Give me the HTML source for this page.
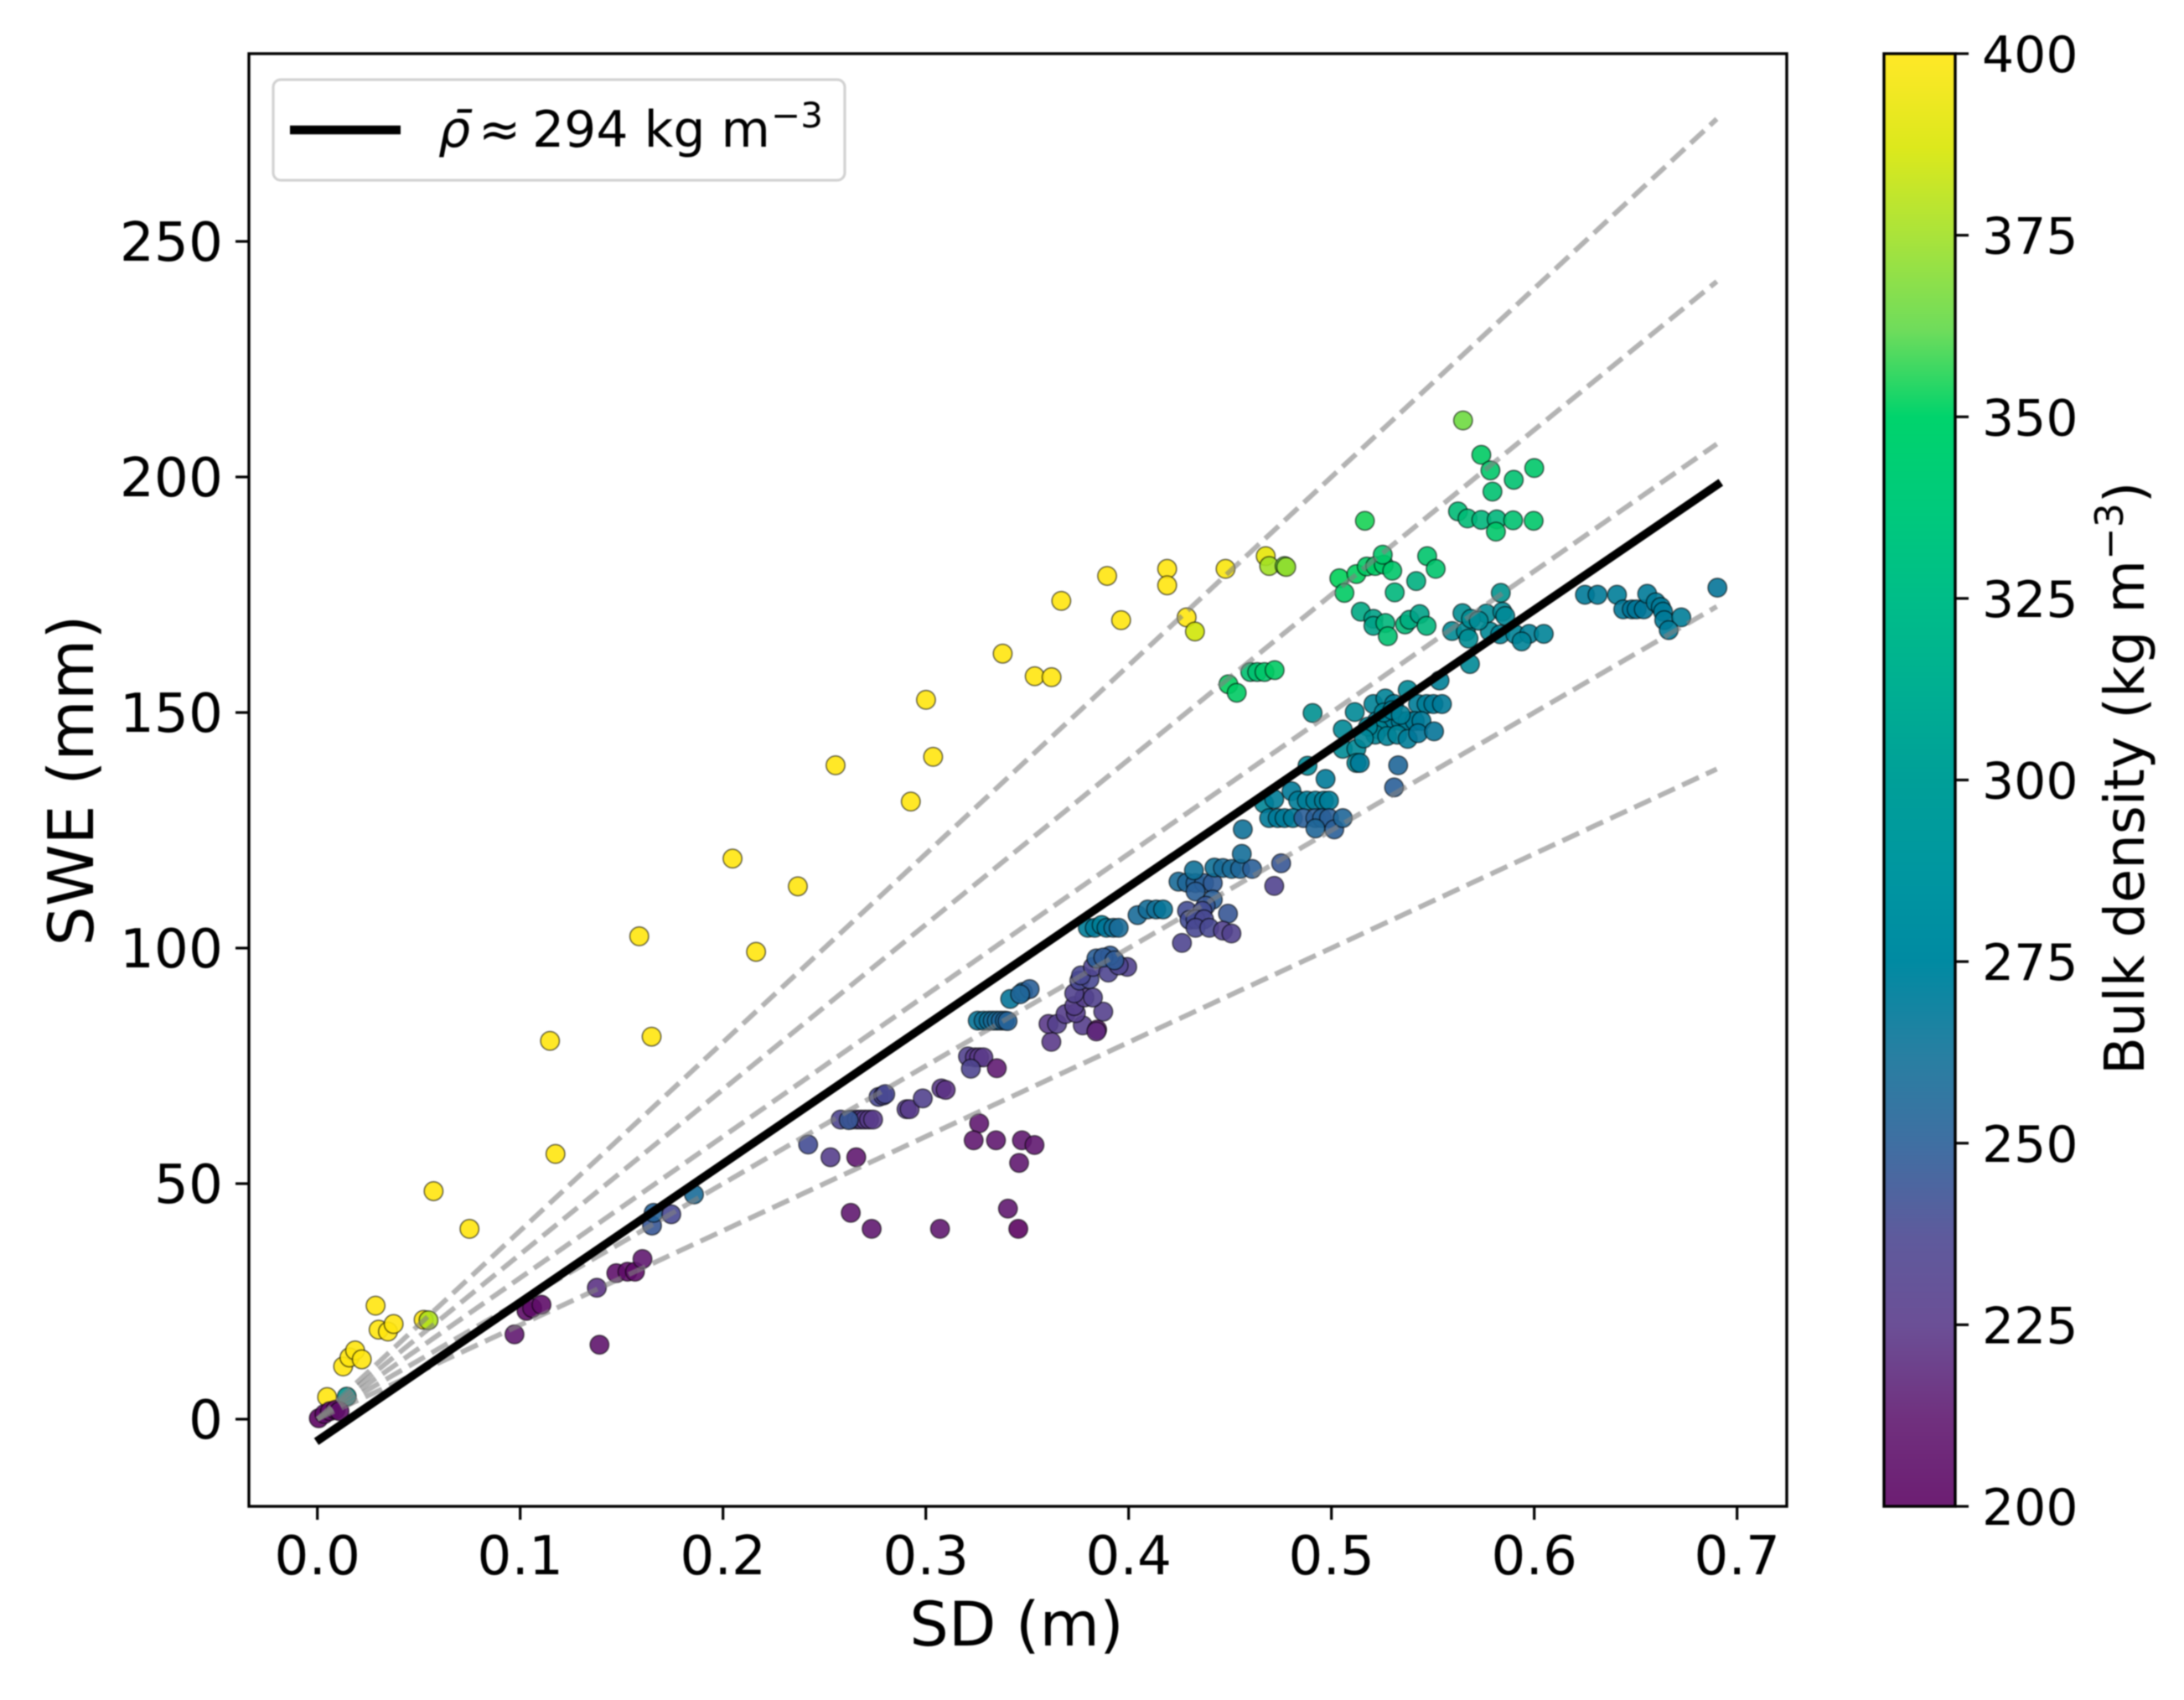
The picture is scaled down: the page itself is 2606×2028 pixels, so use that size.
<!DOCTYPE html>
<html lang="en">
<head>
<meta charset="utf-8">
<title>SWE vs SD scatter</title>
<style>
html,body{margin:0;padding:0;background:#fff;}
svg{display:block;filter:blur(0.9px);}
text{font-family:"DejaVu Sans","Liberation Sans",sans-serif;fill:#000;}
</style>
</head>
<body>
<svg id="chart" width="2606" height="2028" viewBox="0 0 2606 2028" xmlns="http://www.w3.org/2000/svg">
  <defs>
    <linearGradient id="cbar-gradient" x1="0" y1="1" x2="0" y2="0"></linearGradient>
  </defs>
  <rect x="0" y="0" width="2606" height="2028" fill="#fff"/>
  <g id="points"></g>
  <g id="guides"></g>
  <g id="fit"></g>
  <rect x="297" y="64" width="1835" height="1733" fill="none" stroke="#000" stroke-width="3.4"/>
  <g id="x-axis"></g>
  <g id="y-axis"></g>
  <text x="1213" y="1963" font-size="73.5" text-anchor="middle">SD (m)</text>
  <text transform="translate(111,931) rotate(-90)" font-size="74.5" text-anchor="middle">SWE (mm)</text>

  <g>
    <rect x="326" y="95" width="682" height="120" rx="9" ry="9" fill="#fff" fill-opacity="0.85" stroke="#d2d2d2" stroke-width="3.2"/>
    <line x1="346" y1="155" x2="478" y2="155" stroke="#000" stroke-width="10.5"/>
    <text x="523" y="175" font-size="60" font-style="italic">ρ̄</text>
    <text x="571" y="175" font-size="60">≈</text>
    <text x="635" y="175" font-size="60">294 kg m</text>
    <text x="920" y="152" font-size="42">−3</text>
  </g>

  <rect x="2248" y="64" width="85" height="1733" fill="url(#cbar-gradient)"/>
  <rect x="2248" y="64" width="85" height="1733" fill="none" stroke="#000" stroke-width="3.4"/>
  <g id="cbar-axis"></g>
  <text transform="translate(2558,1282) rotate(-90)" font-size="65.5">Bulk density (kg m<tspan dy="-25" font-size="46">−3</tspan><tspan dy="25">)</tspan></text>
</svg>

<script>
const sdValues = [
  .0573,.075,.1147,.1174,.1587,.1648,.2047,.2163,.2369,.2555,.2926,.3001,.3036,.3379,.3537,.362,.3668,.3894,.3963,.419,.419,.4286,.4327,.4478,.4676,
  .0127,.0158,.0186,.0219,.0287,.0302,.0348,.0376,.0524,.0548,.0048,.0145,.0007,.0035,.0062,.009,.0109,
  .0972,.1391,.1378,.1031,.1059,.1105,.1474,.1529,.1566,.1603,.165,.1658,.1745,.1857,
  .242,.253,.2657,.258,.2635,.266,.268,.27,.272,.274,.262,.2767,.279,.28,.2905,.292,.2985,.3077,.3098,
  .3208,.3242,.3263,.3284,.3222,.335,.3263,.3236,.3346,.3474,.3536,.346,.263,.2733,.307,.3405,.3456,
  .3256,.3285,.331,.333,.335,.337,.339,.3403,.3416,.3479,.3512,.3465,
  .3619,.3605,.3647,.3689,.3774,.3845,.3841,.3875,.374,.3732,.3782,.3732,.3824,.3757,.3807,.3765,.3824,.39,.3993,.3951,.3841,.3909,.3875,.393,
  .3799,.3833,.3867,.3891,.3925,.3951,.4044,.4094,.4136,.417,.4246,.4288,.433,.4372,.4415,.4322,.4423,.4465,.4508,.455,.4609,.4558,.433,.4415,.438,
  .4288,.43,.4364,.433,.4372,.449,.433,.4398,.4465,.4507,.4263,.4718,.4752,.4563,.5309,.5329,
  .4668,.4718,.4803,.4836,.4879,.4921,.4963,.4988,.4693,.4735,.4769,.481,.4862,.4921,.4954,.4988,.4921,.5014,.5056,.4971,
  .4882,.4907,.5056,.5056,.5123,.5123,.514,.5115,.5207,.5266,.5376,.5309,.5427,.5469,.5503,.5545,.5224,.5266,.53,.5342,.5376,.5411,.5444,.5233,.5216,.5275,.5325,.5376,.5427,.5506,.5533,.5258,.53,.5342,.518,.516,
  .5595,.5663,.5676,.5781,.5832,.5907,.5975,.5938,.6047,.5646,.5764,.5843,.5688,.5857,.5726,.5683,.5835,
  .625,.6312,.6408,.6439,.6481,.6505,.654,.6557,.6599,.6624,.6635,.6641,.6725,.6663,.6903,
  .4492,.4533,.46,.4634,.467,.472,.4693,.4769,.4777,
  .5039,.5064,.5123,.5165,.5174,.5216,.5258,.53,.5253,.5312,.5418,.5472,.5514,.5145,.5207,.5207,.5266,.5278,.5363,.5385,.5435,.5469,
  .5649,.5739,.5784,.6,.5899,.5794,.5624,.5671,.5739,.5815,.5896,.5997,.5811
];
const sweValues = [
  48.4,40.4,80.3,56.3,102.5,81.2,119,99.2,113.1,138.8,131.1,152.7,140.6,162.5,157.7,157.5,173.7,179,169.6,180.5,177,170.2,167.2,180.5,183.2,
  11.2,13.1,14.6,12.7,24.1,19,18.6,20.2,21.1,21,4.7,4.8,.2,1.1,1.7,2,1.7,
  18,15.8,27.9,23,23.6,24.3,31,31.3,31.3,34,41.1,43.8,43.5,47.7,
  58.3,55.6,55.6,63.6,63.6,63.6,63.6,63.6,63.6,63.6,63.5,68.4,68.7,69,65.8,65.8,68.1,70.2,69.9,
  77,76.8,76.8,76.8,74.4,74.5,62.8,59.2,59.2,59.2,58.2,54.4,43.8,40.4,40.4,44.7,40.4,
  84.6,84.6,84.6,84.6,84.6,84.6,84.6,84.5,89.2,90.7,91.3,90.2,
  80.1,83.9,83.9,86,83.6,82.7,82.3,86.5,86.2,87.7,89.5,90.4,89.5,93.1,93.4,94.2,96,94.8,96,96.3,97.8,98.4,98,97.4,
  104.3,104.3,104.9,104.3,104.3,104.3,107,108.2,108.2,108.2,114.1,113.9,113.8,113.8,113.8,116.5,117.1,117,116.8,116.8,116.8,120,112,110.3,109,
  107.9,106,107.9,106.1,106.1,107.3,104.3,104.3,103.7,103.1,101.1,113.2,118,125.2,134.1,138.8,
  130.7,131.6,133.3,131.3,131.3,131.3,131.3,131.3,127.6,127.6,127.6,127.6,127.6,127.6,127.6,127.6,125.4,125.2,127.6,135.9,
  138.7,149.9,146.4,142.3,142.3,139.3,139.3,150.1,151.8,153,154.8,151.8,151.8,151.8,151.8,151.8,148.2,148.2,148.2,148.2,148.2,148.2,148.2,146.4,145.3,145,145.3,144.4,145.6,146,156.8,150,150.5,149.5,147,144.5,
  167.3,167.2,165.7,167.2,166.6,166.6,166.7,165.1,166.7,171.1,171,171.4,169.9,170.5,169.5,160.3,175.4,
  175,175,175,171.9,171.9,171.9,171.9,175.2,173.4,172.4,171.4,169.6,170.2,167.5,176.5,
  156,154.2,158.6,158.6,158.6,159,181.1,181.1,180.9,
  178.5,175.4,179.4,190.7,181,181.1,181.4,180.1,183.5,175.5,177.9,183.2,180.5,171.4,169.9,168.4,169,166.2,168.7,169.7,170.9,168.4,
  212,204.7,201.4,201.9,199.4,196.9,192.7,191.2,190.9,191,190.8,190.7,188.4
];
const densityValues = [
  400,400,400,400,400,400,400,400,400,400,400,400,400,400,400,400,400,400,400,400,400,400,385,398,392,
  400,400,400,400,400,400,400,400,400,378,400,300,200,205,205,205,205,
  212,210,222,205,205,205,208,205,205,212,245,252,238,258,
  240,228,212,235,232,230,228,226,226,226,245,238,236,238,228,226,232,225,222,
  232,226,225,225,235,213,212,212,212,212,212,212,212,212,212,212,200,
  265,262,262,258,258,255,255,252,265,258,250,255,
  225,225,230,228,228,212,218,230,228,228,228,232,232,238,238,238,235,235,232,235,250,248,248,248,
  275,272,278,268,262,258,258,260,262,265,258,255,252,250,248,262,262,258,258,255,250,260,250,250,245,
  240,240,240,240,238,245,238,238,232,232,235,233,245,262,250,255,
  282,275,272,275,275,275,275,275,272,272,272,272,250,250,252,250,255,250,255,272,
  285,295,285,288,285,285,272,285,280,280,285,275,275,275,272,272,278,278,276,276,276,274,272,282,282,280,280,275,268,265,278,280,278,278,282,282,
  288,288,290,285,280,280,278,280,280,292,288,285,290,285,288,285,298,
  272,272,275,270,268,268,268,272,272,272,272,272,275,272,265,
  350,345,335,335,340,345,375,365,372,
  352,345,350,355,345,345,342,340,340,325,320,338,338,315,310,310,325,335,328,318,310,325,
  365,345,340,340,335,335,330,330,325,325,335,340,340
];
const guideDensities = [200, 250, 300, 350, 400];
const guideExtent = [0, 0.69];
const fitSlope = 294;
const fitIntercept = -4.6;
const fitExtent = [-0.0005, 0.692];
const xTicks = [0, 0.1, 0.2, 0.3, 0.4, 0.5, 0.6, 0.7];
const xTickLabels = ['0.0', '0.1', '0.2', '0.3', '0.4', '0.5', '0.6', '0.7'];
const yTicks = [0, 50, 100, 150, 200, 250];
const cbarTicks = [200, 225, 250, 275, 300, 325, 350, 375, 400];
const colorLevels = [200, 212, 225, 237, 250, 262, 275, 287, 300, 312, 325, 337, 350, 362, 375, 387, 400];
const colorValues = ['#6c1d72', '#70307e', '#6b4f96', '#5e5a9c', '#3f6fa2', '#287fa2', '#008aa2', '#0096a0', '#009f98', '#00ae92', '#00bd88', '#00c97c', '#00d36c', '#6fdc5b', '#aae33a', '#dce81c', '#ffe827'];

const SVGNS = 'http://www.w3.org/2000/svg';
function xScale(v) { return 378.7 + v * 2420; }
function yScale(v) { return 1693 - v * 5.62; }
function cScale(v) { return 1797 - (v - 200) * (1733 / 200); }
function make(tag, parent, attrs) {
  const el = document.createElementNS(SVGNS, tag);
  Object.keys(attrs).forEach(function (k) { el.setAttribute(k, attrs[k]); });
  parent.appendChild(el);
  return el;
}
function hexToRgb(h) {
  return [parseInt(h.slice(1, 3), 16), parseInt(h.slice(3, 5), 16), parseInt(h.slice(5, 7), 16)];
}
function densityColor(rho) {
  const v = Math.max(colorLevels[0], Math.min(colorLevels[colorLevels.length - 1], rho));
  let i = 0;
  while (i < colorLevels.length - 2 && v > colorLevels[i + 1]) i++;
  const t = (v - colorLevels[i]) / (colorLevels[i + 1] - colorLevels[i]);
  const a = hexToRgb(colorValues[i]);
  const b = hexToRgb(colorValues[i + 1]);
  const alpha = 0.9;
  const out = a.map(function (c, k) {
    const mix = c + (b[k] - c) * t;
    return Math.max(0, Math.round((mix - 255 * (1 - alpha)) / alpha));
  });
  return 'rgb(' + out.join(',') + ')';
}

const gradient = document.getElementById('cbar-gradient');
colorLevels.forEach(function (lvl, i) {
  make('stop', gradient, {
    offset: ((lvl - 200) / 200 * 100) + '%',
    'stop-color': colorValues[i]
  });
});

const pointsLayer = document.getElementById('points');
const pointCount = Math.min(sdValues.length, sweValues.length, densityValues.length);
for (let i = 0; i < pointCount; i++) {
  const dot = make('circle', pointsLayer, {
    cx: xScale(sdValues[i]),
    cy: yScale(sweValues[i]),
    r: 11.2,
    fill: densityColor(densityValues[i]),
    'fill-opacity': 0.9,
    stroke: '#000',
    'stroke-opacity': 0.6,
    'stroke-width': 1.5
  });
  
  
}

const guidesLayer = document.getElementById('guides');
guideDensities.forEach(function (rho) {
  const guide = make('line', guidesLayer, {
    x1: xScale(guideExtent[0]),
    y1: yScale(rho * guideExtent[0]),
    x2: xScale(guideExtent[1]),
    y2: yScale(rho * guideExtent[1]),
    stroke: 'rgb(128,128,128)',
    'stroke-opacity': 0.6,
    'stroke-width': 6,
    'stroke-dasharray': '22 9.5'
  });
  
  
});

const fitLayer = document.getElementById('fit');
const fitLine = make('line', fitLayer, {
  x1: xScale(fitExtent[0]),
  y1: yScale(fitSlope * fitExtent[0] + fitIntercept),
  x2: xScale(fitExtent[1]),
  y2: yScale(fitSlope * fitExtent[1] + fitIntercept),
  stroke: '#000',
  'stroke-width': 9.8
});



const xAxis = document.getElementById('x-axis');
xTicks.forEach(function (t, i) {
  const mark = make('line', xAxis, { x1: xScale(t), x2: xScale(t), y1: 1797, y2: 1813, stroke: '#000', 'stroke-width': 3.2 });
  
  
  const label = make('text', xAxis, { x: xScale(t), y: 1878, 'font-size': 64.5, 'text-anchor': 'middle' });
  label.textContent = xTickLabels[i];
  
  
});

const yAxis = document.getElementById('y-axis');
yTicks.forEach(function (t) {
  const mark = make('line', yAxis, { x1: 281, x2: 297, y1: yScale(t), y2: yScale(t), stroke: '#000', 'stroke-width': 3.2 });
  
  
  const label = make('text', yAxis, { x: 266, y: yScale(t) + 23, 'font-size': 64.5, 'text-anchor': 'end' });
  label.textContent = String(t);
  
  
});

const cbarAxis = document.getElementById('cbar-axis');
cbarTicks.forEach(function (t) {
  const mark = make('line', cbarAxis, { x1: 2333, x2: 2349, y1: cScale(t), y2: cScale(t), stroke: '#000', 'stroke-width': 3.2 });
  
  
  const label = make('text', cbarAxis, { x: 2365, y: cScale(t) + 22, 'font-size': 60 });
  label.textContent = String(t);
  
  
});
</script>
</body>
</html>
